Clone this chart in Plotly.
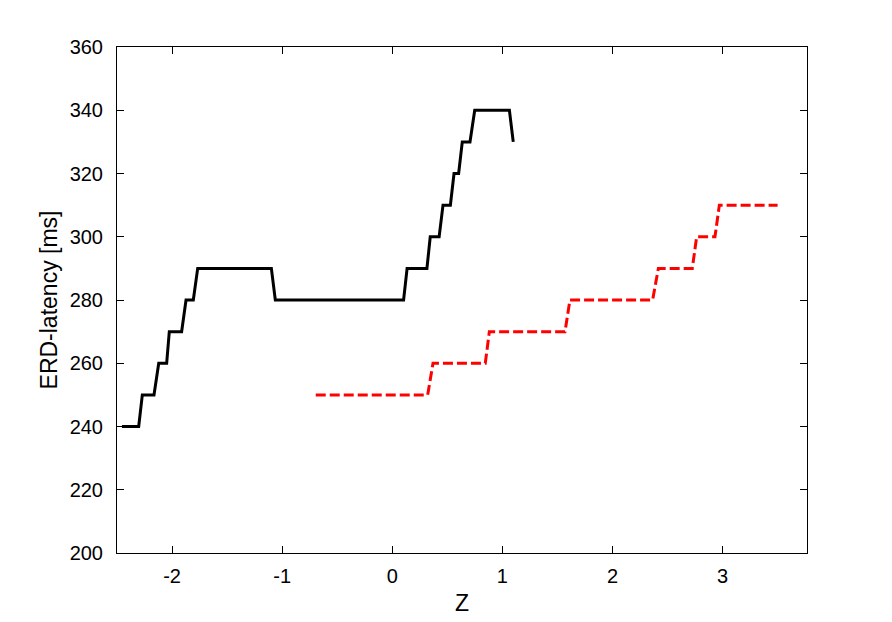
import plotly.graph_objects as go

# Black solid series (Z, ERD-latency)
black_z = [-2.455, -2.303, -2.27, -2.164, -2.121, -2.049, -2.025, -1.913, -1.873,
           -1.807, -1.767, -1.098, -1.062, 0.103, 0.135, 0.315, 0.345, 0.426, 0.461,
           0.528, 0.561, 0.603, 0.636, 0.706, 0.749, 1.064, 1.099]
black_lat = [240, 240, 250, 250, 260, 260, 270, 270, 280,
             280, 290, 290, 280, 280, 290, 290, 300, 300, 310,
             310, 320, 320, 330, 330, 340, 340, 330]

# Red dashed series
red_z = [-0.695, 0.322, 0.370, 0.845, 0.882, 1.569, 1.614, 2.365, 2.417,
         2.725, 2.765, 2.931, 2.971, 3.50]
red_lat = [250, 250, 260, 260, 270, 270, 280, 280, 290,
           290, 300, 300, 310, 310]

x_ticks = [-2, -1, 0, 1, 2, 3]
y_ticks = [200, 220, 240, 260, 280, 300, 320, 340, 360]

fig = go.Figure()
fig.add_trace(go.Scatter(x=black_z, y=black_lat, mode="lines",
                         line=dict(color="black", width=3), showlegend=False))
fig.add_trace(go.Scatter(x=red_z, y=red_lat, mode="lines",
                         line=dict(color="#ff0000", width=3, dash="10px,4px"), showlegend=False))

tick_font = dict(family="Liberation Sans, Arial, sans-serif", size=20, color="black")
title_font = dict(family="Liberation Sans, Arial, sans-serif", size=23, color="black")
axis_common = dict(showgrid=False, zeroline=False, showline=True, linecolor="black",
                   linewidth=1, mirror="ticks", ticks="inside", ticklen=7, tickwidth=1,
                   tickcolor="black", tickfont=tick_font)

fig.update_layout(
    width=884, height=614,
    margin=dict(l=109, r=85, t=39, b=69),
    paper_bgcolor="white", plot_bgcolor="white",
    font=tick_font,
    xaxis=dict(range=[-2.5, 3.767], tickvals=x_ticks, ticktext=[str(v) for v in x_ticks],
               ticklabelstandoff=5,
               title=dict(text="Z", font=title_font, standoff=8), **axis_common),
    yaxis=dict(range=[200, 360], tickvals=y_ticks, ticktext=[str(v) for v in y_ticks],
               ticklabelstandoff=9,
               title=dict(text="ERD-latency [ms]", font=title_font, standoff=5), **axis_common),
)

fig.write_html("out.html")
